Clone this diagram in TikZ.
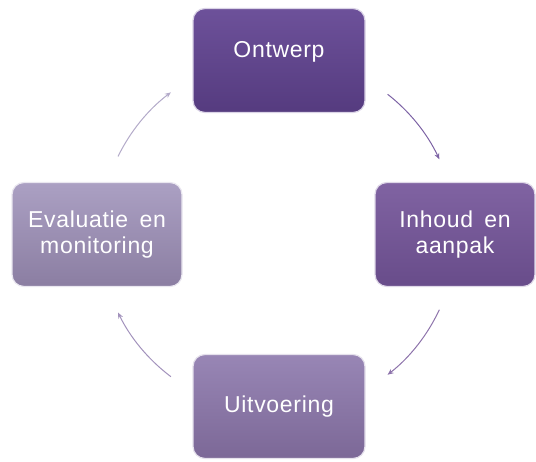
\documentclass[tikz,border=0pt]{standalone}
\usepackage{fontspec}
\newfontfamily\boxfont[LetterSpace=3,WordSpace=1.6]{Liberation Sans}
\usetikzlibrary{arrows.meta}
\definecolor{ontwerpTop}{HTML}{6D519A}
\definecolor{ontwerpBot}{HTML}{553B7F}
\definecolor{inhoudTop}{HTML}{8063A2}
\definecolor{inhoudBot}{HTML}{684C8A}
\definecolor{uitvTop}{HTML}{9886B5}
\definecolor{uitvBot}{HTML}{7C6897}
\definecolor{evalTop}{HTML}{ABA0C3}
\definecolor{evalBot}{HTML}{8B7EA2}
\tikzset{
    stage/.style={rounded corners=12pt, minimum width=172pt, minimum height=104pt,
        inner sep=0pt, align=center, text=white, draw=white!75!#1,
        line width=1.2pt, font=\boxfont\fontsize{23}{26}\selectfont},
    flow/.style={line width=1pt, -{Stealth[length=6pt,width=5pt]}},
}
\begin{document}
\begin{tikzpicture}[x=1pt,y=1pt]
   \useasboundingbox (0,0) rectangle (536,-461);
   \coordinate (hub) at (278,-234.5);
   \node[stage=ontwerpTop, top color=ontwerpTop, bottom color=ontwerpBot,
         text depth=22pt] (s_0) at (279,-60.5) {Ontwerp};
   \node[stage=inhoudTop, top color=inhoudTop, bottom color=inhoudBot,
         minimum width=160pt] (s_1) at (455,-234.5) {Inhoud en\\aanpak};
   \node[stage=uitvTop, top color=uitvTop, bottom color=uitvBot]
         (s_2) at (279,-406.5) {Uitvoering};
   \node[stage=evalTop, top color=evalTop, bottom color=evalBot,
         minimum width=170pt] (s_3) at (97,-234.5) {Evaluatie en\\monitoring};
   % arcs round the hub
   \draw[flow, color=ontwerpTop!90] (hub) ++(52:178) arc[start angle=52, end angle=25, radius=178];
   \draw[flow, color=inhoudTop!90!white] (hub) ++(-25:178) arc[start angle=-25, end angle=-52, radius=178];
   \draw[flow, color=uitvTop!90!white] (hub) ++(233:178) arc[start angle=233, end angle=206, radius=178];
   \draw[flow, color=evalTop!90!white] (hub) ++(154:178) arc[start angle=154, end angle=127, radius=178];
\end{tikzpicture}
\end{document}
